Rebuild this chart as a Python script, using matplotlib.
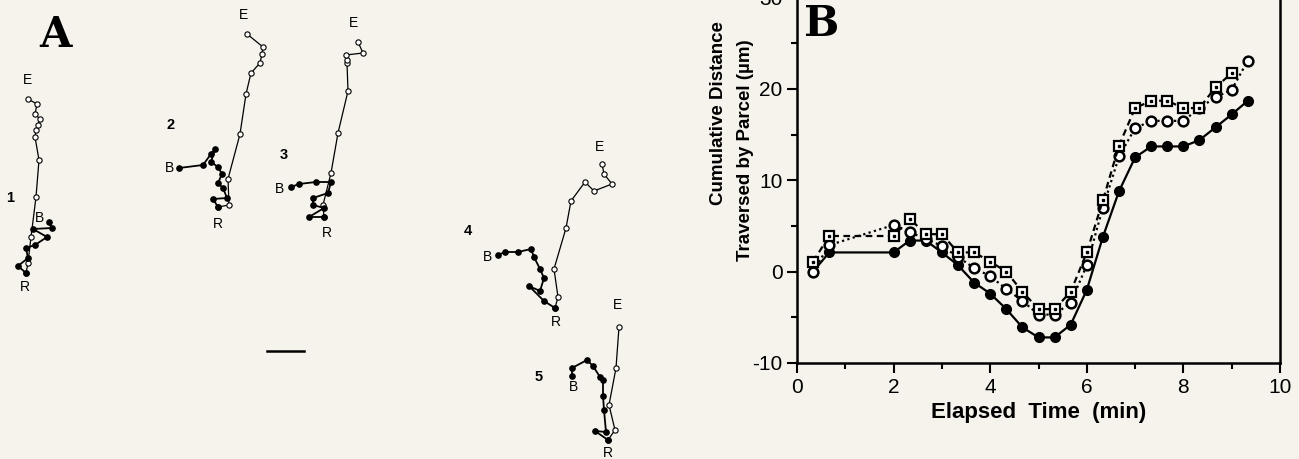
import numpy as np
import matplotlib
matplotlib.use("Agg")
import matplotlib.pyplot as plt

plt.rcParams["font.family"] = ["Liberation Sans", "DejaVu Sans"]
plt.rcParams["axes.unicode_minus"] = False

bg = "#f5f3ec"

# -----------------------------
# Panel A - parcel trajectories (positions in panel units, y down)
# filled = B -> R, open = R -> E
# -----------------------------
t1_fx = [49, 52, 33, 47, 35, 26, 28, 18, 26]
t1_fy = [222, 228, 229, 237, 245, 248, 258, 266, 273]
t1_ox = [26, 28, 31, 36, 39, 35, 36, 38, 40, 35, 37, 28]
t1_oy = [273, 263, 237, 197, 160, 137, 130, 125, 119, 114, 104, 99]

t2_fx = [179, 203, 211, 215, 211, 218, 222, 218, 223, 227, 213, 218]
t2_fy = [168, 165, 154, 149, 162, 167, 174, 183, 188, 198, 199, 207]
t2_ox = [218, 229, 228, 240, 246, 251, 260, 262, 263, 247]
t2_oy = [207, 205, 179, 134, 94, 73, 63, 54, 47, 34]

t3_fx = [291, 299, 316, 331, 328, 313, 313, 324, 309, 324]
t3_fy = [187, 184, 182, 182, 193, 198, 205, 208, 217, 217]
t3_ox = [324, 323, 331, 338, 348, 347, 347, 346, 363, 358]
t3_oy = [217, 205, 173, 133, 91, 63, 60, 55, 53, 42]

t4_fx = [498, 505, 518, 531, 534, 540, 544, 540, 529, 544, 555]
t4_fy = [255, 252, 252, 249, 257, 269, 278, 291, 286, 301, 308]
t4_ox = [555, 558, 554, 566, 571, 585, 594, 612, 604, 602]
t4_oy = [308, 297, 269, 228, 201, 182, 191, 184, 174, 164]

t5_fx = [572, 572, 587, 593, 600, 603, 603, 604, 606, 595, 608]
t5_fy = [376, 368, 360, 366, 377, 380, 396, 410, 432, 431, 440]
t5_ox = [608, 615, 609, 616, 619]
t5_oy = [440, 430, 405, 368, 327]

tracks = [
    (t1_fx, t1_fy, t1_ox, t1_oy, "1", (10, 198), (27, 80), (40, 218), (25, 287)),
    (t2_fx, t2_fy, t2_ox, t2_oy, "2", (171, 125), (244, 15), (169, 168), (218, 224)),
    (t3_fx, t3_fy, t3_ox, t3_oy, "3", (284, 155), (353, 23), (280, 189), (327, 233)),
    (t4_fx, t4_fy, t4_ox, t4_oy, "4", (468, 231), (600, 147), (488, 257), (556, 322)),
    (t5_fx, t5_fy, t5_ox, t5_oy, "5", (539, 377), (617, 305), (573, 387), (608, 453)),
]

# -----------------------------
# Panel B - cumulative distance
# -----------------------------
time_min = [0.333, 0.667, 2.0, 2.333, 2.667, 3.0, 3.333, 3.667, 4.0, 4.333,
            4.667, 5.0, 5.333, 5.667, 6.0, 6.333, 6.667, 7.0, 7.333, 7.667,
            8.0, 8.333, 8.667, 9.0, 9.333]
dist_filled = [0, 2.1, 2.1, 3.4, 3.4, 2.1, 0.7, -1.2, -2.4, -4.1,
               -6.1, -7.2, -7.2, -5.8, -2.0, 3.8, 8.8, 12.5, 13.7, 13.7,
               13.7, 14.4, 15.8, 17.2, 18.7]
dist_open = [0, 2.9, 5.1, 4.3, 3.6, 2.8, 1.6, 0.4, -0.5, -1.9,
             -3.2, -4.7, -4.7, -3.4, 0.7, 7.0, 12.6, 15.7, 16.5, 16.5,
             16.5, 17.9, 19.1, 19.9, 23.1]
time_sq = time_min[:-1]
dist_sq = [1.1, 3.9, 3.9, 5.8, 4.1, 4.1, 2.1, 2.1, 1.1, 0,
           -2.2, -4.1, -4.1, -2.2, 2.1, 7.8, 13.8, 17.9, 18.7, 18.7,
           17.9, 17.9, 20.2, 21.7]

fig = plt.figure(figsize=(12.99, 4.59), dpi=100, facecolor=bg)

# ---- panel A ----
axA = fig.add_axes([0, 0, 780 / 1299, 1])
axA.set_xlim(0, 780)
axA.set_ylim(459, 0)
axA.axis("off")
axA.set_facecolor(bg)

for fx, fy, ox, oy, num, pn, pe, pb, pr in tracks:
    axA.plot(ox, oy, color="black", lw=0.9, marker="o", ms=3.8,
             mfc="white", mec="black", mew=0.8)
    axA.plot(fx, fy, color="black", lw=1.3, marker="o", ms=3.8,
             mfc="black", mec="black")
    axA.text(pn[0], pn[1], num, fontsize=10.5, fontweight="bold",
             ha="center", va="center")
    for lab, p in (("E", pe), ("B", pb), ("R", pr)):
        axA.text(p[0], p[1], lab, fontsize=10, ha="center", va="center")

# scale bar
axA.plot([267, 304], [351, 351], color="black", lw=1.8)
axA.text(55, 35, "A", fontsize=30, fontweight="bold", family="DejaVu Serif",
         ha="center", va="center")

# ---- panel B ----
axB = fig.add_axes([797 / 1299, 96 / 459, 483 / 1299, 365.5 / 459])
axB.set_facecolor(bg)
axB.plot(time_min, dist_filled, color="black", lw=1.6, ls="-",
         marker="o", ms=7, mfc="black", mec="black", zorder=3)
axB.plot(time_min, dist_open, color="black", lw=1.6, ls=(0, (1, 1.5)),
         marker="o", ms=7, mfc="white", mec="black", mew=1.8, zorder=4)
axB.plot(time_sq, dist_sq, color="black", lw=1.6, ls=(0, (3, 2)),
         marker="s", ms=7, mfc="white", mec="black", mew=1.6, zorder=5)
axB.plot(time_sq, dist_sq, ls="none", marker="s", ms=2, color="black", zorder=6)

axB.set_xlim(0, 10)
axB.set_ylim(-10, 30)
axB.set_xticks([0, 2, 4, 6, 8, 10])
axB.set_xticks([1, 3, 5, 7, 9], minor=True)
axB.set_yticks([-10, 0, 10, 20, 30])
axB.set_yticks([-5, 5, 15, 25], minor=True)
axB.tick_params(which="both", direction="out", width=1.5, labelsize=15)
axB.tick_params(which="major", length=7)
axB.tick_params(which="minor", length=4)
for s in axB.spines.values():
    s.set_linewidth(1.8)

axB.set_xlabel("Elapsed  Time  (min)", fontsize=16, fontweight="bold", labelpad=4)
fig.text(718 / 1299, 1 - 113 / 459, "Cumulative Distance", rotation=90,
         fontsize=13.5, fontweight="bold", ha="center", va="center")
fig.text(745 / 1299, 1 - 150 / 459, "Traversed by Parcel (\u00b5m)", rotation=90,
         fontsize=13.5, fontweight="bold", ha="center", va="center")
fig.text(822 / 1299, 1 - 24 / 459, "B", fontsize=30,
         fontweight="bold", family="DejaVu Serif", ha="center", va="center")

plt.savefig("out.png", dpi=100, facecolor=bg)
